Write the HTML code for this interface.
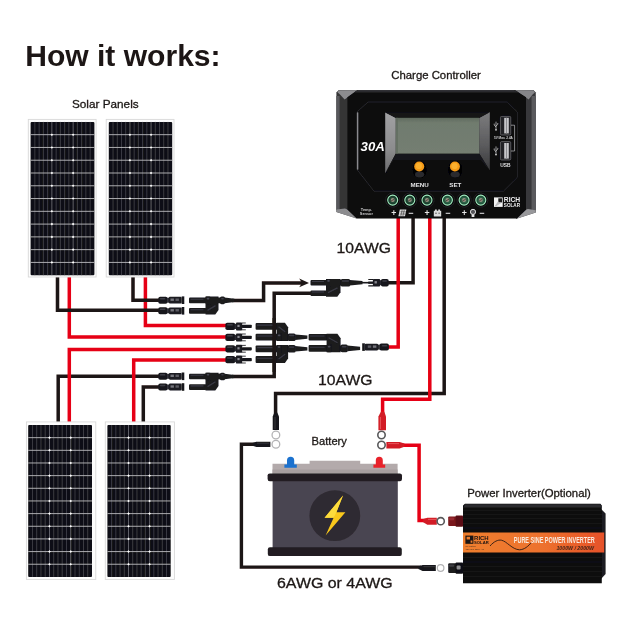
<!DOCTYPE html>
<html lang="en"><head><meta charset="utf-8"><title>How it works</title>
<style>
html,body{margin:0;padding:0;background:#fff;}
body{width:630px;height:630px;overflow:hidden;}
svg{display:block;}
text{font-family:"Liberation Sans",Arial,sans-serif;fill:#1f1614;}
.lbl{font-size:11.7px;}
.awg{font-size:15.3px;}
</style></head><body>
<svg width="630" height="630" viewBox="0 0 630 630">
<rect width="630" height="630" fill="#fff"/>
<defs><filter id="soft" x="0" y="0" width="630" height="630" filterUnits="userSpaceOnUse"><feGaussianBlur stdDeviation="0.45"/></filter></defs>
<g filter="url(#soft)">

<text x="25.2" y="66.3" font-size="29.9" font-weight="700" textLength="195.4" lengthAdjust="spacingAndGlyphs">How it works:</text>
<g stroke="#1c1715" stroke-width="0.3" style="fill:#1c1715">
<text x="72.0" y="108.3" font-size="11.75" style="fill:#1c1715">Solar Panels</text>
<text x="391.3" y="79.1" font-size="11.35" style="fill:#1c1715">Charge Controller</text>
<text x="336.6" y="252.7" font-size="15.3" textLength="54.4" lengthAdjust="spacingAndGlyphs" style="fill:#1c1715">10AWG</text>
<text x="318.1" y="385.3" font-size="15.3" textLength="54.4" lengthAdjust="spacingAndGlyphs" style="fill:#1c1715">10AWG</text>
<text x="311.6" y="444.5" font-size="11.15" style="fill:#1c1715">Battery</text>
<text x="467.2" y="497.3" font-size="11.35" style="fill:#1c1715">Power Inverter(Optional)</text>
<text x="277.0" y="588.3" font-size="15.2" textLength="115.6" lengthAdjust="spacingAndGlyphs" style="fill:#1c1715">6AWG or 4AWG</text>
</g>
<g fill="none" stroke-width="3.5" stroke-linejoin="miter">
<path stroke="#e60012" d="M69.3,276V337H227 M145.4,276V325.6H227"/>
<path stroke="#1f1614" d="M57.5,276V310.3H159 M133,276V300.3H159"/>
<path stroke="#1f1614" d="M58.2,423V376.3H159 M143.3,423V387H159"/>
<path stroke="#e60012" d="M69.3,423V349.4H227 M133.7,423V360H227"/>
<path stroke="#1f1614" d="M232,300.4H263.6V282.9H302.5 M232,376.5H274.2V293.2H312"/>
<path stroke="#1f1614" d="M413.1,217V282.7H388 M444.2,217V393.4H275.6V415"/>
<path stroke="#e60012" d="M398.2,217V347.1H388 M429.8,217V399.3H382.6V415"/>
<path stroke="#e60012" d="M400,445.2H419.1V520.4H426"/>
<path stroke="#1f1614" stroke-width="3.4" d="M256,444.3H241.4V567.1H421"/>
</g>
<path d="M299.2,278.6L309,282.9L299.2,287.2L302,282.9Z" fill="#1f1614"/>
<rect x="28.3" y="119.4" width="67.80" height="157.60" fill="#fdfdfd" stroke="#d9d9d9" stroke-width="0.9"/>
<rect x="30.60" y="121.90" width="63.80" height="153.30" fill="#0e0e12" rx="1"/>
<path d="M34.85,121.90V275.20M39.11,121.90V275.20M43.36,121.90V275.20M47.61,121.90V275.20M56.12,121.90V275.20M60.37,121.90V275.20M64.63,121.90V275.20M68.88,121.90V275.20M77.39,121.90V275.20M81.64,121.90V275.20M85.89,121.90V275.20M90.15,121.90V275.20" stroke="#4b4b55" stroke-width="0.75" fill="none"/>
<path d="M30.60,134.68H94.40M30.60,147.45H94.40M30.60,160.22H94.40M30.60,173.00H94.40M30.60,185.78H94.40M30.60,198.55H94.40M30.60,211.32H94.40M30.60,224.10H94.40M30.60,236.88H94.40M30.60,249.65H94.40M30.60,262.42H94.40" stroke="#bdbdc2" stroke-width="0.9" fill="none"/>
<path d="M51.87,121.90V275.20M73.13,121.90V275.20" stroke="#777780" stroke-width="0.8" fill="none"/>
<path d="M50.57,134.68L51.87,133.38L53.17,134.68L51.87,135.98ZM50.57,147.45L51.87,146.15L53.17,147.45L51.87,148.75ZM50.57,160.22L51.87,158.92L53.17,160.22L51.87,161.53ZM50.57,173.00L51.87,171.70L53.17,173.00L51.87,174.30ZM50.57,185.78L51.87,184.47L53.17,185.78L51.87,187.08ZM50.57,198.55L51.87,197.25L53.17,198.55L51.87,199.85ZM50.57,211.32L51.87,210.02L53.17,211.32L51.87,212.62ZM50.57,224.10L51.87,222.80L53.17,224.10L51.87,225.40ZM50.57,236.88L51.87,235.57L53.17,236.88L51.87,238.18ZM50.57,249.65L51.87,248.35L53.17,249.65L51.87,250.95ZM50.57,262.42L51.87,261.12L53.17,262.42L51.87,263.72ZM71.83,134.68L73.13,133.38L74.43,134.68L73.13,135.98ZM71.83,147.45L73.13,146.15L74.43,147.45L73.13,148.75ZM71.83,160.22L73.13,158.92L74.43,160.22L73.13,161.53ZM71.83,173.00L73.13,171.70L74.43,173.00L73.13,174.30ZM71.83,185.78L73.13,184.47L74.43,185.78L73.13,187.08ZM71.83,198.55L73.13,197.25L74.43,198.55L73.13,199.85ZM71.83,211.32L73.13,210.02L74.43,211.32L73.13,212.62ZM71.83,224.10L73.13,222.80L74.43,224.10L73.13,225.40ZM71.83,236.88L73.13,235.57L74.43,236.88L73.13,238.18ZM71.83,249.65L73.13,248.35L74.43,249.65L73.13,250.95ZM71.83,262.42L73.13,261.12L74.43,262.42L73.13,263.72Z" fill="#fff"/>
<rect x="106.2" y="119.4" width="67.80" height="157.60" fill="#fdfdfd" stroke="#d9d9d9" stroke-width="0.9"/>
<rect x="108.80" y="121.90" width="63.40" height="153.30" fill="#0e0e12" rx="1"/>
<path d="M113.03,121.90V275.20M117.25,121.90V275.20M121.48,121.90V275.20M125.71,121.90V275.20M134.16,121.90V275.20M138.39,121.90V275.20M142.61,121.90V275.20M146.84,121.90V275.20M155.29,121.90V275.20M159.52,121.90V275.20M163.75,121.90V275.20M167.97,121.90V275.20" stroke="#4b4b55" stroke-width="0.75" fill="none"/>
<path d="M108.80,134.68H172.20M108.80,147.45H172.20M108.80,160.22H172.20M108.80,173.00H172.20M108.80,185.78H172.20M108.80,198.55H172.20M108.80,211.32H172.20M108.80,224.10H172.20M108.80,236.88H172.20M108.80,249.65H172.20M108.80,262.42H172.20" stroke="#bdbdc2" stroke-width="0.9" fill="none"/>
<path d="M129.93,121.90V275.20M151.07,121.90V275.20" stroke="#777780" stroke-width="0.8" fill="none"/>
<path d="M128.63,134.68L129.93,133.38L131.23,134.68L129.93,135.98ZM128.63,147.45L129.93,146.15L131.23,147.45L129.93,148.75ZM128.63,160.22L129.93,158.92L131.23,160.22L129.93,161.53ZM128.63,173.00L129.93,171.70L131.23,173.00L129.93,174.30ZM128.63,185.78L129.93,184.47L131.23,185.78L129.93,187.08ZM128.63,198.55L129.93,197.25L131.23,198.55L129.93,199.85ZM128.63,211.32L129.93,210.02L131.23,211.32L129.93,212.62ZM128.63,224.10L129.93,222.80L131.23,224.10L129.93,225.40ZM128.63,236.88L129.93,235.57L131.23,236.88L129.93,238.18ZM128.63,249.65L129.93,248.35L131.23,249.65L129.93,250.95ZM128.63,262.42L129.93,261.12L131.23,262.42L129.93,263.72ZM149.77,134.68L151.07,133.38L152.37,134.68L151.07,135.98ZM149.77,147.45L151.07,146.15L152.37,147.45L151.07,148.75ZM149.77,160.22L151.07,158.92L152.37,160.22L151.07,161.53ZM149.77,173.00L151.07,171.70L152.37,173.00L151.07,174.30ZM149.77,185.78L151.07,184.47L152.37,185.78L151.07,187.08ZM149.77,198.55L151.07,197.25L152.37,198.55L151.07,199.85ZM149.77,211.32L151.07,210.02L152.37,211.32L151.07,212.62ZM149.77,224.10L151.07,222.80L152.37,224.10L151.07,225.40ZM149.77,236.88L151.07,235.57L152.37,236.88L151.07,238.18ZM149.77,249.65L151.07,248.35L152.37,249.65L151.07,250.95ZM149.77,262.42L151.07,261.12L152.37,262.42L151.07,263.72Z" fill="#fff"/>
<rect x="26.4" y="421.9" width="69.40" height="157.50" fill="#fdfdfd" stroke="#d9d9d9" stroke-width="0.9"/>
<rect x="28.20" y="425.00" width="63.80" height="151.90" fill="#0e0e12" rx="1"/>
<path d="M32.45,425.00V576.90M36.71,425.00V576.90M40.96,425.00V576.90M45.21,425.00V576.90M53.72,425.00V576.90M57.97,425.00V576.90M62.23,425.00V576.90M66.48,425.00V576.90M74.99,425.00V576.90M79.24,425.00V576.90M83.49,425.00V576.90M87.75,425.00V576.90" stroke="#4b4b55" stroke-width="0.75" fill="none"/>
<path d="M28.20,437.66H92.00M28.20,450.32H92.00M28.20,462.98H92.00M28.20,475.63H92.00M28.20,488.29H92.00M28.20,500.95H92.00M28.20,513.61H92.00M28.20,526.27H92.00M28.20,538.92H92.00M28.20,551.58H92.00M28.20,564.24H92.00" stroke="#bdbdc2" stroke-width="0.9" fill="none"/>
<path d="M49.47,425.00V576.90M70.73,425.00V576.90" stroke="#777780" stroke-width="0.8" fill="none"/>
<path d="M48.17,437.66L49.47,436.36L50.77,437.66L49.47,438.96ZM48.17,450.32L49.47,449.02L50.77,450.32L49.47,451.62ZM48.17,462.98L49.47,461.68L50.77,462.98L49.47,464.28ZM48.17,475.63L49.47,474.33L50.77,475.63L49.47,476.93ZM48.17,488.29L49.47,486.99L50.77,488.29L49.47,489.59ZM48.17,500.95L49.47,499.65L50.77,500.95L49.47,502.25ZM48.17,513.61L49.47,512.31L50.77,513.61L49.47,514.91ZM48.17,526.27L49.47,524.97L50.77,526.27L49.47,527.57ZM48.17,538.92L49.47,537.62L50.77,538.92L49.47,540.22ZM48.17,551.58L49.47,550.28L50.77,551.58L49.47,552.88ZM48.17,564.24L49.47,562.94L50.77,564.24L49.47,565.54ZM69.43,437.66L70.73,436.36L72.03,437.66L70.73,438.96ZM69.43,450.32L70.73,449.02L72.03,450.32L70.73,451.62ZM69.43,462.98L70.73,461.68L72.03,462.98L70.73,464.28ZM69.43,475.63L70.73,474.33L72.03,475.63L70.73,476.93ZM69.43,488.29L70.73,486.99L72.03,488.29L70.73,489.59ZM69.43,500.95L70.73,499.65L72.03,500.95L70.73,502.25ZM69.43,513.61L70.73,512.31L72.03,513.61L70.73,514.91ZM69.43,526.27L70.73,524.97L72.03,526.27L70.73,527.57ZM69.43,538.92L70.73,537.62L72.03,538.92L70.73,540.22ZM69.43,551.58L70.73,550.28L72.03,551.58L70.73,552.88ZM69.43,564.24L70.73,562.94L72.03,564.24L70.73,565.54Z" fill="#fff"/>
<rect x="105.3" y="421.9" width="69.10" height="157.50" fill="#fdfdfd" stroke="#d9d9d9" stroke-width="0.9"/>
<rect x="107.40" y="425.00" width="63.30" height="151.90" fill="#0e0e12" rx="1"/>
<path d="M111.62,425.00V576.90M115.84,425.00V576.90M120.06,425.00V576.90M124.28,425.00V576.90M132.72,425.00V576.90M136.94,425.00V576.90M141.16,425.00V576.90M145.38,425.00V576.90M153.82,425.00V576.90M158.04,425.00V576.90M162.26,425.00V576.90M166.48,425.00V576.90" stroke="#4b4b55" stroke-width="0.75" fill="none"/>
<path d="M107.40,437.66H170.70M107.40,450.32H170.70M107.40,462.98H170.70M107.40,475.63H170.70M107.40,488.29H170.70M107.40,500.95H170.70M107.40,513.61H170.70M107.40,526.27H170.70M107.40,538.92H170.70M107.40,551.58H170.70M107.40,564.24H170.70" stroke="#bdbdc2" stroke-width="0.9" fill="none"/>
<path d="M128.50,425.00V576.90M149.60,425.00V576.90" stroke="#777780" stroke-width="0.8" fill="none"/>
<path d="M127.20,437.66L128.50,436.36L129.80,437.66L128.50,438.96ZM127.20,450.32L128.50,449.02L129.80,450.32L128.50,451.62ZM127.20,462.98L128.50,461.68L129.80,462.98L128.50,464.28ZM127.20,475.63L128.50,474.33L129.80,475.63L128.50,476.93ZM127.20,488.29L128.50,486.99L129.80,488.29L128.50,489.59ZM127.20,500.95L128.50,499.65L129.80,500.95L128.50,502.25ZM127.20,513.61L128.50,512.31L129.80,513.61L128.50,514.91ZM127.20,526.27L128.50,524.97L129.80,526.27L128.50,527.57ZM127.20,538.92L128.50,537.62L129.80,538.92L128.50,540.22ZM127.20,551.58L128.50,550.28L129.80,551.58L128.50,552.88ZM127.20,564.24L128.50,562.94L129.80,564.24L128.50,565.54ZM148.30,437.66L149.60,436.36L150.90,437.66L149.60,438.96ZM148.30,450.32L149.60,449.02L150.90,450.32L149.60,451.62ZM148.30,462.98L149.60,461.68L150.90,462.98L149.60,464.28ZM148.30,475.63L149.60,474.33L150.90,475.63L149.60,476.93ZM148.30,488.29L149.60,486.99L150.90,488.29L149.60,489.59ZM148.30,500.95L149.60,499.65L150.90,500.95L149.60,502.25ZM148.30,513.61L149.60,512.31L150.90,513.61L149.60,514.91ZM148.30,526.27L149.60,524.97L150.90,526.27L149.60,527.57ZM148.30,538.92L149.60,537.62L150.90,538.92L149.60,540.22ZM148.30,551.58L149.60,550.28L150.90,551.58L149.60,552.88ZM148.30,564.24L149.60,562.94L150.90,564.24L149.60,565.54Z" fill="#fff"/>
<g transform="translate(158.3,300.2) scale(1.0000,1)">
<rect x="0" y="-3.5" width="9.2" height="7" rx="1.8" fill="#19191d"/>
<rect x="1.6" y="-2.2" width="5.4" height="1.5" rx="0.7" fill="#3c3c44"/>
<rect x="8.8" y="-2.5" width="2.4" height="5" fill="#2a2a30"/>
<rect x="10.6" y="-3.4" width="12.8" height="6.8" rx="1.1" fill="#1b1b20"/>
<rect x="12.2" y="-1.7" width="3.4" height="2.4" fill="#74747c"/>
<rect x="17.2" y="-1.7" width="3.4" height="2.4" fill="#5c5c64"/>
<rect x="23.4" y="-3.8" width="2.6" height="7.6" fill="#19191d"/>
</g>
<g transform="translate(158.3,310.8) scale(1.0000,1)">
<rect x="0" y="-3.5" width="9.2" height="7" rx="1.8" fill="#19191d"/>
<rect x="1.6" y="-2.2" width="5.4" height="1.5" rx="0.7" fill="#3c3c44"/>
<rect x="8.8" y="-2.5" width="2.4" height="5" fill="#2a2a30"/>
<rect x="10.6" y="-3.4" width="12.8" height="6.8" rx="1.1" fill="#1b1b20"/>
<rect x="12.2" y="-1.7" width="3.4" height="2.4" fill="#74747c"/>
<rect x="17.2" y="-1.7" width="3.4" height="2.4" fill="#5c5c64"/>
<rect x="23.4" y="-3.8" width="2.6" height="7.6" fill="#19191d"/>
</g>
<g transform="translate(158.3,376.3) scale(1.0000,1)">
<rect x="0" y="-3.5" width="9.2" height="7" rx="1.8" fill="#19191d"/>
<rect x="1.6" y="-2.2" width="5.4" height="1.5" rx="0.7" fill="#3c3c44"/>
<rect x="8.8" y="-2.5" width="2.4" height="5" fill="#2a2a30"/>
<rect x="10.6" y="-3.4" width="12.8" height="6.8" rx="1.1" fill="#1b1b20"/>
<rect x="12.2" y="-1.7" width="3.4" height="2.4" fill="#74747c"/>
<rect x="17.2" y="-1.7" width="3.4" height="2.4" fill="#5c5c64"/>
<rect x="23.4" y="-3.8" width="2.6" height="7.6" fill="#19191d"/>
</g>
<g transform="translate(158.3,387) scale(1.0000,1)">
<rect x="0" y="-3.5" width="9.2" height="7" rx="1.8" fill="#19191d"/>
<rect x="1.6" y="-2.2" width="5.4" height="1.5" rx="0.7" fill="#3c3c44"/>
<rect x="8.8" y="-2.5" width="2.4" height="5" fill="#2a2a30"/>
<rect x="10.6" y="-3.4" width="12.8" height="6.8" rx="1.1" fill="#1b1b20"/>
<rect x="12.2" y="-1.7" width="3.4" height="2.4" fill="#74747c"/>
<rect x="17.2" y="-1.7" width="3.4" height="2.4" fill="#5c5c64"/>
<rect x="23.4" y="-3.8" width="2.6" height="7.6" fill="#19191d"/>
</g>
<g transform="translate(225.4,326.4) scale(1.0000,1)">
<rect x="0" y="-3.6" width="9.8" height="7.2" rx="1.8" fill="#19191d"/>
<rect x="1.6" y="-2.3" width="5.8" height="1.5" rx="0.7" fill="#3c3c44"/>
<rect x="9.4" y="-2.6" width="1.8" height="5.2" fill="#2a2a30"/>
<rect x="10.6" y="-4" width="6.2" height="8" rx="0.9" fill="#1b1b20"/>
<rect x="12" y="-1.6" width="2.2" height="2.2" fill="#8a8a92"/>
<rect x="16.4" y="-1.6" width="10" height="3.2" rx="0.8" fill="#19191d"/>
<path d="M16.6,-3.4H20.4M16.6,3.4H20.4" stroke="#2a2a30" stroke-width="0.9"/>
</g>
<g transform="translate(225.4,337.4) scale(1.0000,1)">
<rect x="0" y="-3.6" width="9.8" height="7.2" rx="1.8" fill="#19191d"/>
<rect x="1.6" y="-2.3" width="5.8" height="1.5" rx="0.7" fill="#3c3c44"/>
<rect x="9.4" y="-2.6" width="1.8" height="5.2" fill="#2a2a30"/>
<rect x="10.6" y="-4" width="6.2" height="8" rx="0.9" fill="#1b1b20"/>
<rect x="12" y="-1.6" width="2.2" height="2.2" fill="#8a8a92"/>
<rect x="16.4" y="-1.6" width="10" height="3.2" rx="0.8" fill="#19191d"/>
<path d="M16.6,-3.4H20.4M16.6,3.4H20.4" stroke="#2a2a30" stroke-width="0.9"/>
</g>
<g transform="translate(225.4,348.8) scale(1.0000,1)">
<rect x="0" y="-3.6" width="9.8" height="7.2" rx="1.8" fill="#19191d"/>
<rect x="1.6" y="-2.3" width="5.8" height="1.5" rx="0.7" fill="#3c3c44"/>
<rect x="9.4" y="-2.6" width="1.8" height="5.2" fill="#2a2a30"/>
<rect x="10.6" y="-4" width="6.2" height="8" rx="0.9" fill="#1b1b20"/>
<rect x="12" y="-1.6" width="2.2" height="2.2" fill="#8a8a92"/>
<rect x="16.4" y="-1.6" width="10" height="3.2" rx="0.8" fill="#19191d"/>
<path d="M16.6,-3.4H20.4M16.6,3.4H20.4" stroke="#2a2a30" stroke-width="0.9"/>
</g>
<g transform="translate(225.4,359.6) scale(1.0000,1)">
<rect x="0" y="-3.6" width="9.8" height="7.2" rx="1.8" fill="#19191d"/>
<rect x="1.6" y="-2.3" width="5.8" height="1.5" rx="0.7" fill="#3c3c44"/>
<rect x="9.4" y="-2.6" width="1.8" height="5.2" fill="#2a2a30"/>
<rect x="10.6" y="-4" width="6.2" height="8" rx="0.9" fill="#1b1b20"/>
<rect x="12" y="-1.6" width="2.2" height="2.2" fill="#8a8a92"/>
<rect x="16.4" y="-1.6" width="10" height="3.2" rx="0.8" fill="#19191d"/>
<path d="M16.6,-3.4H20.4M16.6,3.4H20.4" stroke="#2a2a30" stroke-width="0.9"/>
</g>
<g fill="#1a1a1e">
<rect x="189" y="297.60" width="17.50" height="5.6" rx="1"/>
<rect x="189" y="308.10" width="17.50" height="5.6" rx="1"/>
<path d="M205.50,314.40 H215.30 L218.50,309.90 V296.60 H205.50 Z"/>
<rect x="205.50" y="296.60" width="5" height="7.6" rx="1.2"/>
<rect x="217.50" y="297.50" width="3.50" height="5.8"/>
<rect x="220.00" y="296.60" width="5.00" height="7.6" rx="1.6"/>
<path d="M224.50,297.60 L234.50,298.80 V302.00 L224.50,303.20 Z"/>
</g>
<path d="M190.50,299.20 H203.50 M190.50,309.70 H203.50" stroke="#3d3d46" stroke-width="1.1" fill="none"/>
<rect x="221.20" y="298.00" width="2.60" height="1.4" rx="0.7" fill="#3d3d46"/>
<path d="M207.50,310.40 L215.50,305.65" stroke="#3a3a42" stroke-width="1.3" fill="none"/>
<rect x="206.70" y="297.80" width="2.6" height="1.6" rx="0.7" fill="#4a4a54"/>
<g fill="#1a1a1e">
<rect x="189" y="373.70" width="17.50" height="5.6" rx="1"/>
<rect x="189" y="384.30" width="17.50" height="5.6" rx="1"/>
<path d="M205.50,390.60 H215.30 L218.50,386.10 V372.70 H205.50 Z"/>
<rect x="205.50" y="372.70" width="5" height="7.6" rx="1.2"/>
<rect x="217.50" y="373.60" width="3.50" height="5.8"/>
<rect x="220.00" y="372.70" width="5.00" height="7.6" rx="1.6"/>
<path d="M224.50,373.70 L234.50,374.90 V378.10 L224.50,379.30 Z"/>
</g>
<path d="M190.50,375.30 H203.50 M190.50,385.90 H203.50" stroke="#3d3d46" stroke-width="1.1" fill="none"/>
<rect x="221.20" y="374.10" width="2.60" height="1.4" rx="0.7" fill="#3d3d46"/>
<path d="M207.50,386.60 L215.50,381.80" stroke="#3a3a42" stroke-width="1.3" fill="none"/>
<rect x="206.70" y="373.90" width="2.6" height="1.6" rx="0.7" fill="#4a4a54"/>
<g fill="#1a1a1e">
<rect x="255.6" y="333.80" width="22.00" height="6.8" rx="1"/>
<rect x="255.6" y="322.90" width="22.00" height="6.8" rx="1"/>
<path d="M276.60,322.80 H284.90 L288.10,327.30 V341.00 H276.60 Z"/>
<rect x="276.60" y="333.40" width="5" height="7.6" rx="1.2"/>
<rect x="287.10" y="334.30" width="1.70" height="5.8"/>
<rect x="287.80" y="333.40" width="7.80" height="7.6" rx="1.6"/>
<path d="M295.10,334.40 L307.40,335.60 V338.80 L295.10,340.00 Z"/>
</g>
<path d="M257.10,336.00 H274.60 M257.10,325.10 H274.60" stroke="#3d3d46" stroke-width="1.1" fill="none"/>
<rect x="289.00" y="334.80" width="5.40" height="1.4" rx="0.7" fill="#3d3d46"/>
<path d="M278.60,326.80 L285.10,331.75" stroke="#3a3a42" stroke-width="1.3" fill="none"/>
<rect x="277.80" y="334.60" width="2.6" height="1.6" rx="0.7" fill="#4a4a54"/>
<g fill="#1a1a1e">
<rect x="255.6" y="345.40" width="22.00" height="6.8" rx="1"/>
<rect x="255.6" y="356.10" width="22.00" height="6.8" rx="1"/>
<path d="M276.60,363.00 H284.90 L288.10,358.50 V345.00 H276.60 Z"/>
<rect x="276.60" y="345.00" width="5" height="7.6" rx="1.2"/>
<rect x="287.10" y="345.90" width="1.70" height="5.8"/>
<rect x="287.80" y="345.00" width="7.80" height="7.6" rx="1.6"/>
<path d="M295.10,346.00 L307.40,347.20 V350.40 L295.10,351.60 Z"/>
</g>
<path d="M257.10,347.60 H274.60 M257.10,358.30 H274.60" stroke="#3d3d46" stroke-width="1.1" fill="none"/>
<rect x="289.00" y="346.40" width="5.40" height="1.4" rx="0.7" fill="#3d3d46"/>
<path d="M278.60,359.00 L285.10,354.15" stroke="#3a3a42" stroke-width="1.3" fill="none"/>
<rect x="277.80" y="346.20" width="2.6" height="1.6" rx="0.7" fill="#4a4a54"/>
<g fill="#1a1a1e">
<rect x="308.6" y="345.10" width="19.00" height="6.6" rx="1"/>
<rect x="308.6" y="333.90" width="19.00" height="6.6" rx="1"/>
<path d="M326.60,333.70 H337.40 L340.60,338.20 V352.20 H326.60 Z"/>
<rect x="326.60" y="344.60" width="5" height="7.6" rx="1.2"/>
<rect x="339.60" y="345.50" width="2.00" height="5.8"/>
<rect x="340.60" y="344.60" width="7.20" height="7.6" rx="1.6"/>
<path d="M347.30,345.60 L360.10,346.80 V350.00 L347.30,351.20 Z"/>
</g>
<path d="M310.10,347.20 H324.60 M310.10,336.00 H324.60" stroke="#3d3d46" stroke-width="1.1" fill="none"/>
<rect x="341.80" y="346.00" width="4.80" height="1.4" rx="0.7" fill="#3d3d46"/>
<path d="M328.60,337.70 L337.60,342.80" stroke="#3a3a42" stroke-width="1.3" fill="none"/>
<rect x="327.80" y="345.80" width="2.6" height="1.6" rx="0.7" fill="#4a4a54"/>
<g fill="#1a1a1e">
<rect x="310.5" y="279.90" width="16.50" height="5.6" rx="1"/>
<rect x="310.5" y="290.40" width="16.50" height="5.6" rx="1"/>
<path d="M326.00,296.70 H337.30 L340.50,292.20 V278.90 H326.00 Z"/>
<rect x="326.00" y="278.90" width="5" height="7.6" rx="1.2"/>
<rect x="339.50" y="279.80" width="2.20" height="5.8"/>
<rect x="340.70" y="278.90" width="9.50" height="7.6" rx="1.6"/>
<path d="M349.70,279.90 L362.50,281.10 V284.30 L349.70,285.50 Z"/>
</g>
<path d="M312.00,281.50 H324.00 M312.00,292.00 H324.00" stroke="#3d3d46" stroke-width="1.1" fill="none"/>
<rect x="341.90" y="280.30" width="7.10" height="1.4" rx="0.7" fill="#3d3d46"/>
<path d="M328.00,292.70 L337.50,287.95" stroke="#3a3a42" stroke-width="1.3" fill="none"/>
<rect x="327.20" y="280.10" width="2.6" height="1.6" rx="0.7" fill="#4a4a54"/>
<path d="M361,282.7H369.5" stroke="#1a1a1e" stroke-width="1.6"/>
<g transform="translate(388.9,347.1) scale(-1.0269,1)">
<rect x="0" y="-3.5" width="9.2" height="7" rx="1.8" fill="#19191d"/>
<rect x="1.6" y="-2.2" width="5.4" height="1.5" rx="0.7" fill="#3c3c44"/>
<rect x="8.8" y="-2.5" width="2.4" height="5" fill="#2a2a30"/>
<rect x="10.6" y="-3.4" width="12.8" height="6.8" rx="1.1" fill="#1b1b20"/>
<rect x="12.2" y="-1.7" width="3.4" height="2.4" fill="#74747c"/>
<rect x="17.2" y="-1.7" width="3.4" height="2.4" fill="#5c5c64"/>
<rect x="23.4" y="-3.8" width="2.6" height="7.6" fill="#19191d"/>
</g>
<g transform="translate(368.3,282.7)"><path d="M0,-3.2H5M0,3.2H5" stroke="#1a1a1e" stroke-width="1.2"/><rect x="0" y="-1.2" width="5.4" height="2.4" fill="#1a1a1e"/><rect x="4.6" y="-3.8" width="7.2" height="7.6" rx="0.9" fill="#1b1b20"/><rect x="6.2" y="-1.6" width="2.4" height="2.4" fill="#85858d"/><rect x="11.4" y="-2.5" width="1.8" height="5" fill="#2a2a30"/><rect x="12.6" y="-3.8" width="7.8" height="7.6" rx="1.8" fill="#19191d"/><rect x="14" y="-2.4" width="4.6" height="1.5" rx="0.7" fill="#3c3c44"/></g>
<path d="M274.2,318V372" stroke="#1f1614" stroke-width="3.5" fill="none"/>
<!-- ===== Charge controller ===== -->
<g id="controller">
  <!-- ears -->
  <path d="M336.4,92.6 L338.8,90 L358,90.2 V216.8 L357,218.6 L336.4,212 Z" fill="#343436"/>
  <path d="M336.3,96 H339.6 V210 H336.3 Z" fill="#58585b"/>
  <path d="M337.4,92.2 L339,90.2 L357,90.3 L347.4,97.4 L344.6,99.6 L340,94.6 Z" fill="#8c8c8f"/>
  <path d="M336.5,209.4 L345,208.6 L347.4,209.4 L357,218.7 L336.5,212.1 Z" fill="#8c8c8f"/>
  <path d="M535.8,92.6 L533.4,90 L514,90.2 V216.8 L516.4,218.7 L535.8,212.4 Z" fill="#39393b"/>
  <path d="M535.8,96 H531.6 V210 H535.8 Z" fill="#5a5a5d"/>
  <path d="M535,92.2 L533.2,90.2 L515.4,90.3 L526,97.4 L528.6,99.6 L532.6,94.6 Z" fill="#858588"/>
  <path d="M535.6,210.2 L528,209 L526.4,209.4 L516.6,218.7 L535.6,212.5 Z" fill="#98989b"/>
  <!-- main body -->
  <path d="M357.4,90.2 H515 L526,97.2 V209.4 L516.8,218.5 H357 L347.4,209.4 V97.2 Z" fill="#0a0a0c"/>
  <path d="M357.4,90.2 H515 L518.6,92.5 H353.9 Z" fill="#2c2c2f"/>
  <!-- inner raised panel outline -->
  <path d="M368,102 H507.2 L517.3,112 V177.4 L503.4,191.2 H374 L357.4,170 V111.6 Z" fill="#08080a" stroke="#2e2e32" stroke-width="0.9"/>
  <path d="M357.6,112.4 V169.6" stroke="#8a8a8e" stroke-width="1.5"/>
  <!-- LCD bezel -->
  <linearGradient id="bzl" x1="0" y1="112" x2="0" y2="174" gradientUnits="userSpaceOnUse"><stop offset="0" stop-color="#a2a2a4"/><stop offset="0.6" stop-color="#8c8c8e"/><stop offset="1" stop-color="#6a6a6c"/></linearGradient>
  <linearGradient id="bzr" x1="0" y1="112" x2="0" y2="171" gradientUnits="userSpaceOnUse"><stop offset="0" stop-color="#7c7c7e"/><stop offset="0.55" stop-color="#5c5c5e"/><stop offset="1" stop-color="#39393b"/></linearGradient>
  <linearGradient id="lcd" x1="0" y1="117.8" x2="0" y2="153.6" gradientUnits="userSpaceOnUse"><stop offset="0" stop-color="#5f6a5e"/><stop offset="0.14" stop-color="#707b6e"/><stop offset="1" stop-color="#747e72"/></linearGradient>
  <path d="M385.2,112.2 H489.8 L489.8,170.6 L478,157.5 H396.4 L385.2,173.6 Z" fill="#0b0b0d"/>
  <path d="M385.2,112.4 L395.8,117.8 V153.6 L385.2,173.6 Z" fill="url(#bzl)"/>
  <path d="M489.8,112 L479.2,117.8 V153.6 L489.8,170.6 Z" fill="url(#bzr)"/>
  <path d="M385.2,112.2 H489.8 L479.2,117.9 H395.8 Z" fill="#141416"/>
  <path d="M395.8,153.6 H479.2 L489.8,170.6 L480.5,160 H393.6 L385.2,173.6 Z" fill="#19191b"/>
  <!-- LCD -->
  <rect x="395.8" y="117.8" width="83.4" height="35.8" fill="url(#lcd)"/>
  <rect x="395.8" y="117.8" width="2.2" height="35.8" fill="#5f6a5e" opacity="0.7"/>
  <!-- 30A -->
  <text x="360.6" y="151" font-size="13.2" font-weight="700" font-style="italic" style="fill:#fff">30A</text>
  <!-- buttons -->
  <ellipse cx="419.6" cy="169.5" rx="7" ry="8.6" fill="#050506"/>
  <ellipse cx="455.2" cy="169.5" rx="7" ry="8.6" fill="#050506"/>
  <ellipse cx="419.6" cy="174.5" rx="4.6" ry="3" fill="#2a2a2d"/>
  <ellipse cx="455.2" cy="174.5" rx="4.6" ry="3" fill="#2a2a2d"/>
  <circle cx="419.2" cy="166.5" r="5" fill="#f59a18"/>
  <circle cx="454.9" cy="166.5" r="5" fill="#f59a18"/>
  <circle cx="418.9" cy="166" r="3.1" fill="#fbb02e"/>
  <circle cx="454.6" cy="166" r="3.1" fill="#fbb02e"/>
  <text x="419.6" y="187.4" font-size="6.2" font-weight="700" text-anchor="middle" style="fill:#e8e8e8">MENU</text>
  <text x="455.3" y="187.4" font-size="6.2" font-weight="700" text-anchor="middle" style="fill:#e8e8e8">SET</text>
  <!-- terminal strip -->
  
  <g transform="translate(392.7,200.1)"><circle r="7.1" fill="#050506" stroke="#303033" stroke-width="0.7"/><circle r="5" fill="#1a3c2c" stroke="#a2ecc0" stroke-width="1.1"/><circle r="3.2" fill="#224a36"/><circle r="2" fill="#9a9084"/><path d="M-1.6,0.8L1.6,-0.8" stroke="#3e352e" stroke-width="0.8"/></g>
  <g transform="translate(409.8,200.1)"><circle r="7.1" fill="#050506" stroke="#303033" stroke-width="0.7"/><circle r="5" fill="#1a3c2c" stroke="#a2ecc0" stroke-width="1.1"/><circle r="3.2" fill="#224a36"/><circle r="2" fill="#9a9084"/><path d="M-1.6,0.8L1.6,-0.8" stroke="#3e352e" stroke-width="0.8"/></g>
  <g transform="translate(427.0,200.1)"><circle r="7.1" fill="#050506" stroke="#303033" stroke-width="0.7"/><circle r="5" fill="#1a3c2c" stroke="#a2ecc0" stroke-width="1.1"/><circle r="3.2" fill="#224a36"/><circle r="2" fill="#9a9084"/><path d="M-1.6,0.8L1.6,-0.8" stroke="#3e352e" stroke-width="0.8"/></g>
  <g transform="translate(447.4,200.1)"><circle r="7.1" fill="#050506" stroke="#303033" stroke-width="0.7"/><circle r="5" fill="#22513a" stroke="#a2ecc0" stroke-width="1.1"/><circle r="3.2" fill="#2d6448"/><circle r="2" fill="#9a9084"/><path d="M-1.6,0.8L1.6,-0.8" stroke="#3e352e" stroke-width="0.8"/></g>
  <g transform="translate(464.1,200.1)"><circle r="7.1" fill="#050506" stroke="#303033" stroke-width="0.7"/><circle r="5" fill="#22513a" stroke="#a2ecc0" stroke-width="1.1"/><circle r="3.2" fill="#2d6448"/><circle r="2" fill="#9a9084"/><path d="M-1.6,0.8L1.6,-0.8" stroke="#3e352e" stroke-width="0.8"/></g>
  <g transform="translate(480.8,200.1)"><circle r="7.1" fill="#050506" stroke="#303033" stroke-width="0.7"/><circle r="5" fill="#22513a" stroke="#a2ecc0" stroke-width="1.1"/><circle r="3.2" fill="#2d6448"/><circle r="2" fill="#9a9084"/><path d="M-1.6,0.8L1.6,-0.8" stroke="#3e352e" stroke-width="0.8"/></g>
  <!-- symbols row -->
  <g fill="#e6e6e6" font-size="8.8" font-weight="700">
    <text x="393.7" y="216.2" text-anchor="middle" style="fill:#e6e6e6">+</text>
    <text x="410.8" y="215.9" text-anchor="middle" style="fill:#e6e6e6">−</text>
    <text x="427.1" y="216.2" text-anchor="middle" style="fill:#e6e6e6">+</text>
    <text x="447.8" y="215.9" text-anchor="middle" style="fill:#e6e6e6">−</text>
    <text x="464.4" y="216.2" text-anchor="middle" style="fill:#e6e6e6">+</text>
    <text x="481.7" y="215.9" text-anchor="middle" style="fill:#e6e6e6">−</text>
  </g>
  <!-- PV icon -->
  <path d="M399.8,209.6 H406.4 L405,216.2 H398.4 Z" fill="#dcdcdc"/>
  <path d="M400.4,211.8 H405.8 M399.8,214 H405.2 M402.2,209.8 L400.8,216 M404.3,209.8 L402.9,216" stroke="#222" stroke-width="0.5" fill="none"/>
  <!-- battery icon -->
  <path d="M433.8,210.8 H441.2 V216.4 H433.8 Z M435,209.6 H436.8 V210.8 H435 Z M438.2,209.6 H440 V210.8 H438.2 Z" fill="#dcdcdc"/>
  <path d="M435,213.2 H437 M438.3,213.2 H440 " stroke="#222" stroke-width="0.6"/>
  <!-- bulb icon -->
  <circle cx="473" cy="211.9" r="2.6" fill="#55555a" stroke="#e2e2e2" stroke-width="1"/>
  <path d="M471.6,214.6 H474.4 V217 H471.6 Z" fill="#e6e6e6"/>
  <!-- temp sensor -->
  <text x="366.4" y="210.6" font-size="3.9" font-weight="700" text-anchor="middle" style="fill:#cfcfcf">Temp.</text>
  <text x="366.4" y="214.7" font-size="3.9" font-weight="700" text-anchor="middle" style="fill:#cfcfcf">Sensor</text>
  <!-- logo -->
  <rect x="494" y="197.4" width="8.7" height="9.5" fill="#f4f4f4"/>
  <path d="M498.3,198.3 H502 V202.5 H498.3 Z" fill="#1a1a1c"/><path d="M494.8,206 L498.3,201 V202.5 H502 L496,206.2 Z" fill="#bdbdbf"/>
  <text x="503.8" y="202" font-size="6.4" font-weight="700" textLength="16.4" lengthAdjust="spacingAndGlyphs" style="fill:#f2f2f2">RICH</text>
  <text x="503.8" y="206.9" font-size="5.2" font-weight="700" textLength="16.2" lengthAdjust="spacingAndGlyphs" style="fill:#f2f2f2">SOLAR</text>
  <!-- USB ports -->
  <rect x="500.4" y="116.4" width="10.4" height="18.6" rx="1.2" fill="#222226" stroke="#77777b" stroke-width="0.7"/>
  <rect x="500.4" y="141.6" width="10.4" height="18.4" rx="1.2" fill="#222226" stroke="#77777b" stroke-width="0.7"/>
  <rect x="504.2" y="117.8" width="4.6" height="15.6" fill="#c6c6c9"/><rect x="506" y="117.8" width="1" height="15.6" fill="#8c8c90"/>
  <rect x="504.2" y="143" width="4.6" height="15.6" fill="#c6c6c9"/><rect x="506" y="143" width="1" height="15.6" fill="#8c8c90"/>
  <path d="M511,125.2 H514.6 V151 H511" fill="none" stroke="#bdbdc0" stroke-width="0.7"/>
  <!-- usb trident symbols -->
  <g stroke="#d8d8d8" stroke-width="0.7" fill="none">
    <path d="M496,121.6 V129.4 M496,127 L494.2,125.2 V123.6 M496,126 L497.8,124.4 V123"/>
    <path d="M496,146.4 V154.2 M496,151.8 L494.2,150 V148.4 M496,150.8 L497.8,149.2 V147.8"/>
  </g>
  <circle cx="496" cy="129.8" r="0.9" fill="#d8d8d8"/>
  <circle cx="496" cy="154.6" r="0.9" fill="#d8d8d8"/>
  <text x="503.4" y="139.2" font-size="3.1" font-weight="700" text-anchor="middle" style="fill:#d8d8d8">5V  Max. 2.4A</text>
  <text x="505.4" y="166.6" font-size="4.9" font-weight="700" text-anchor="middle" style="fill:#e4e4e4">USB</text>
</g>
<!-- ===== Battery ===== -->
<g id="battery">
  <!-- lid -->
  <path d="M272.5,463.8 H309.6 V460.7 H360.2 V463.8 H397.6 V474.5 H272.5 Z" fill="#b3aaab"/>
  <path d="M272.5,469.6 H397.6 V474.5 H272.5 Z" fill="#a79e9f"/>
  <!-- terminals -->
  <path d="M287,460.4 Q287,456.8 290.6,456.8 Q294.2,456.8 294.2,460.4 V464.4 H296.8 V467.8 H284.4 V464.4 H287 Z" fill="#1b72cf"/>
  <path d="M375.8,460.4 Q375.8,456.8 379.3,456.8 Q382.8,456.8 382.8,460.4 V464.4 H385.2 V467.8 H373.4 V464.4 H375.8 Z" fill="#e8232a"/>
  <!-- body -->
  <rect x="272.6" y="480" width="125.2" height="69" fill="#4a4551"/>
  <!-- bands -->
  <rect x="267.6" y="473.4" width="134.4" height="7.9" rx="2.2" fill="#221f22"/>
  <rect x="267.8" y="547.3" width="134" height="8.8" rx="2.2" fill="#221f22"/>
  <!-- circle and bolt -->
  <circle cx="334.8" cy="515.7" r="25.4" fill="#2e2a31"/>
  <path d="M343,495.4 L324.6,517.8 L333.6,517.8 L325.6,535.6 L345.4,512.2 L336.4,512.2 Z" fill="#f9c81c"/>
  <path d="M343,495.4 L324.6,517.8 L333.6,517.8 L336.4,512.2 Z" fill="#fddc3c"/>
</g>
<!-- ===== Inverter ===== -->
<g id="inverter">
  <!-- posts -->
  <rect x="448.2" y="516.4" width="14.8" height="9.6" rx="1.2" fill="#7a181d"/>
  <rect x="449" y="517.6" width="5.2" height="2.6" rx="1" fill="#9a2a31"/>
  <rect x="455.6" y="515.6" width="7.4" height="11.2" rx="0.8" fill="#5c1115"/>
  <rect x="448.2" y="563.3" width="14.8" height="9.6" rx="1.2" fill="#1c1c1e"/>
  <rect x="449" y="564.4" width="5.2" height="2.4" rx="1" fill="#3c3c40"/>
  <rect x="455.6" y="562.5" width="7.4" height="11.2" rx="0.8" fill="#101012"/>
  <rect x="456.6" y="565.4" width="4" height="4" rx="1" fill="#8e8e90"/>
  <!-- end cap -->
  <path d="M600,508 L605.6,513.6 V574 L600,580 Z" fill="#1e1e21"/>
  <!-- body -->
  <path d="M463,505.4 L465,503.8 H600.4 L601.8,505.4 V583.3 H463 Z" fill="#0c0c0e"/>
  <path d="M465,504.2 H600.4 L601.6,507.4 H463.4 Z" fill="#2b2b2e"/>
  <path d="M463,510.4 H601.6 M463,514.4 H601.6 M463,518.8 H601.6 M463,523.4 H601.6 M463,528 H601.6 M463,557.4 H601.6 M463,562 H601.6 M463,566.8 H601.6 M463,571.6 H601.6 M463,576.6 H601.6" stroke="#1b1b1e" stroke-width="0.8" fill="none"/>
  <!-- orange stripe -->
  <linearGradient id="og" x1="463" x2="604" y1="0" y2="0" gradientUnits="userSpaceOnUse"><stop offset="0" stop-color="#ef7f2f"/><stop offset="0.55" stop-color="#ed722d"/><stop offset="1" stop-color="#e6522b"/></linearGradient>
  <path d="M463,532.5 H604.2 V552.6 H463 Z" fill="url(#og)"/>
  
  <!-- logo -->
  <rect x="465.4" y="535.6" width="8" height="8.2" fill="#1a1413"/>
  <path d="M466.6,536.8 H470 V539.6 H466.6 Z M470.6,540.4 H472.4 V542.8 H470.6 Z" fill="#ee7b2b"/>
  <text x="474.1" y="539.9" font-size="5.2" font-weight="700" textLength="14.6" lengthAdjust="spacingAndGlyphs" style="fill:#1a1413">RICH</text>
  <text x="474.1" y="543.9" font-size="3.9" font-weight="700" textLength="14.6" lengthAdjust="spacingAndGlyphs" style="fill:#1a1413">SOLAR</text>
  <text x="465.6" y="547.4" font-size="2.4" style="fill:#3a2a20">UL Listed</text>
  <text x="465.6" y="550" font-size="2.4" style="fill:#3a2a20">12V DC 120V AC</text>
  <!-- sine curve -->
  <path d="M490,546 C494,541.4 498,539.6 501.4,540.2 C507,541.4 512,549.4 519.4,549.8 C524.4,549.8 528.4,546 531.4,542.6" fill="none" stroke="#2a1a14" stroke-width="0.9"/>
  <!-- texts -->
  <text x="513.8" y="542.6" font-size="8.8" font-weight="700" textLength="81" lengthAdjust="spacingAndGlyphs" style="fill:#f8eadf">PURE SINE POWER INVERTER</text>
  <text x="556.4" y="550.2" font-size="5.8" font-weight="700" font-style="italic" textLength="37.6" lengthAdjust="spacingAndGlyphs" style="fill:#40241a">1000W / 2000W</text>
</g>
<!-- ===== Ring lugs ===== -->
<g id="lugs">
  <!-- black neg top (vertical) -->
  <path d="M274.4,412.6 H277.2 L279,416.4 V430 H272.7 V416.4 Z" fill="#19191b"/>
  <path d="M275,417 V429" stroke="#3a3a3e" stroke-width="0.9"/>
  <circle cx="275.9" cy="435" r="3.85" fill="#fff" stroke="#b4b4b6" stroke-width="1.3"/>
  <circle cx="275.9" cy="444.3" r="3.85" fill="#fff" stroke="#b4b4b6" stroke-width="1.3"/>
  <path d="M252.6,443 L256.4,441.8 H270.4 V446.9 H256.4 L252.6,445.7 Z" fill="#19191b"/>
  <path d="M257,443.2 H269" stroke="#3a3a3e" stroke-width="0.9"/>
  <!-- red pos top (vertical) -->
  <path d="M380.9,411.8 H384.3 L386,416.4 V430.2 H378.4 V416.4 Z" fill="#d21f27"/>
  <path d="M380.4,417 V429" stroke="#e8555b" stroke-width="1"/>
  <circle cx="381.5" cy="435" r="3.7" fill="#fff" stroke="#58585a" stroke-width="1.6"/>
  <circle cx="381.5" cy="445" r="3.7" fill="#fff" stroke="#58585a" stroke-width="1.6"/>
  <path d="M404.4,443.6 L399.6,442 H386.4 V448.4 H399.6 L404.4,446.8 Z" fill="#d21f27"/>
  <path d="M388,443.6 H399" stroke="#e8555b" stroke-width="1"/>
  <!-- red to inverter -->
  <path d="M423.2,519 L427.4,517.8 H436.8 V524.7 H427.4 L423.2,522.2 Z" fill="#d21f27"/>
  <path d="M428,519.4 H436" stroke="#e8555b" stroke-width="1"/>
  <circle cx="440.7" cy="521.2" r="3.6" fill="#fff" stroke="#58585a" stroke-width="1.6"/>
  <!-- black to inverter -->
  <path d="M418.4,566.4 L422.6,564.9 H435.8 V570.9 H422.6 L418.4,569 Z" fill="#19191b"/>
  <path d="M423.5,566.6 H435" stroke="#3a3a3e" stroke-width="0.9"/>
  <circle cx="440.6" cy="568" r="3.3" fill="#fff" stroke="#b4b4b6" stroke-width="1.2"/>
</g>

</g>
</svg>
</body></html>
